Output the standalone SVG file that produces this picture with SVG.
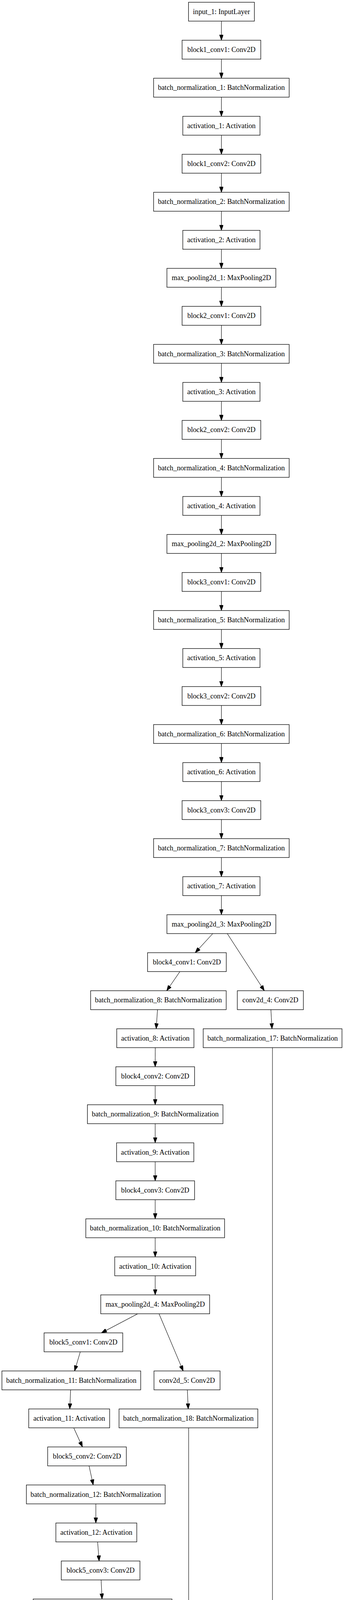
<svg xmlns="http://www.w3.org/2000/svg" width="880" height="5900" viewBox="0 0 880 5900">
<style>
.n rect{fill:#fff;stroke:#000;stroke-width:1.3}
.n text{font-family:"Liberation Serif","Times New Roman",serif;font-size:18.2px;fill:#000;text-anchor:middle}
#edges path{fill:none;stroke:#000;stroke-width:1.1;marker-end:url(#ah)}
</style>
<defs>
<marker id="ah" markerUnits="userSpaceOnUse" markerWidth="14" markerHeight="10" refX="14" refY="5" orient="auto"><path d="M0,0 L14,5 L0,10 z" fill="#000" stroke="#000" stroke-width="1"/></marker>
</defs>
<rect x="0" y="0" width="880" height="5900" fill="#fff"/>
<g id="edges">
<path d="M566.4,54.1 L566.4,103"/>
<path d="M566.4,151.4 L566.4,200.3"/>
<path d="M566.4,248.7 L566.4,297.7"/>
<path d="M566.4,346.1 L566.4,395"/>
<path d="M566.4,443.4 L566.4,492.3"/>
<path d="M566.4,540.7 L566.4,589.7"/>
<path d="M566.4,638.1 L566.4,687"/>
<path d="M566.4,735.4 L566.4,784.3"/>
<path d="M566.4,832.7 L566.4,881.6"/>
<path d="M566.4,930 L566.4,979"/>
<path d="M566.4,1027.4 L566.4,1076.3"/>
<path d="M566.4,1124.7 L566.4,1173.6"/>
<path d="M566.4,1222 L566.4,1271"/>
<path d="M566.4,1319.4 L566.4,1368.3"/>
<path d="M566.4,1416.7 L566.4,1465.6"/>
<path d="M566.4,1514 L566.4,1563"/>
<path d="M566.4,1611.4 L566.4,1660.3"/>
<path d="M566.4,1708.7 L566.4,1757.6"/>
<path d="M566.4,1806 L566.4,1854.9"/>
<path d="M566.4,1903.3 L566.4,1952.3"/>
<path d="M566.4,2000.7 L566.4,2049.6"/>
<path d="M566.4,2098 L566.4,2146.9"/>
<path d="M566.4,2195.3 L566.4,2244.3"/>
<path d="M566.4,2292.7 L566.4,2341.6"/>
<path d="M544.3,2390 L499.4,2438.9"/>
<path d="M581.4,2390 L676.2,2536.3"/>
<path d="M460.2,2487.3 L426.5,2536.3"/>
<path d="M402.9,2584.7 L399.6,2633.6"/>
<path d="M693,2584.7 L695.8,2633.6"/>
<path d="M397.2,2682 L397,2730.9"/>
<path d="M397,2779.3 L397,2828.2"/>
<path d="M397,2876.6 L397,2925.6"/>
<path d="M397,2974 L397,3022.9"/>
<path d="M397,3071.3 L397,3120.2"/>
<path d="M397,3168.6 L397,3217.6"/>
<path d="M397,3266 L397,3314.9"/>
<path d="M352.4,3363.3 L259.3,3412.2"/>
<path d="M406.8,3363.3 L468.6,3509.6"/>
<path d="M205.4,3460.6 L190.8,3509.6"/>
<path d="M479.2,3558 L481.5,3606.9"/>
<path d="M180.7,3558 L178.5,3606.9"/>
<path d="M188.6,3655.3 L211,3704.2"/>
<path d="M227.8,3752.6 L238.5,3801.5"/>
<path d="M245.2,3849.9 L245.2,3898.9"/>
<path d="M249.7,3947.3 L253.6,3996.2"/>
<path d="M258.7,4044.6 L261,4093.5"/>
<path d="M263.2,4141.9 L264.3,4190.9"/>
<path d="M266,4239.3 L266.3,4288.2"/>
<path d="M267.1,4336.6 L267.7,4385.5"/>
<path d="M267.8,4433.9 L267.8,4482.9"/>
<path d="M267.8,4531.3 L267.8,4580.2"/>
<path d="M267.8,4628.6 L267.8,4677.5"/>
<path d="M267.8,4725.9 L267.8,4774.8"/>
<path d="M267.8,4823.2 L267.8,4872.2"/>
<path d="M267.8,4920.6 L267.8,4969.5"/>
<path d="M267.8,5017.9 L267.8,5066.8"/>
<path d="M280,5115.2 L303,5164.2"/>
<path d="M356.3,5212.6 L442.2,5261.5"/>
<path d="M482.6,3655.3 L482.6,5261.5"/>
<path d="M492.1,5309.9 L507.9,5358.8"/>
<path d="M526.4,5407.2 L540.4,5456.2"/>
<path d="M567.3,5504.6 L603.3,5553.5"/>
<path d="M697,2682 L697,5390 C697,5460 660,5500 638.6,5553.5"/>
<path d="M622.3,5601.9 L622.3,5650.8"/>
<path d="M622.3,5699.2 L622.3,5748.1"/>
<path d="M622.3,5796.5 L622.3,5845.5"/>
</g>
<g id="input_1" class="n"><rect x="482.3" y="5.7" width="168.4" height="48.4"/><text x="566.5" y="35.7">input_1: InputLayer</text></g>
<g id="block1_conv1" class="n"><rect x="465.8" y="103" width="201.3" height="48.4"/><text x="566.5" y="133">block1_conv1: Conv2D</text></g>
<g id="batch_normalization_1" class="n"><rect x="392.9" y="200.3" width="346.8" height="48.4"/><text x="566.3" y="230.3">batch_normalization_1: BatchNormalization</text></g>
<g id="activation_1" class="n"><rect x="467.6" y="297.7" width="197.5" height="48.4"/><text x="566.3" y="327.7">activation_1: Activation</text></g>
<g id="block1_conv2" class="n"><rect x="465.8" y="395" width="201.3" height="48.4"/><text x="566.5" y="425">block1_conv2: Conv2D</text></g>
<g id="batch_normalization_2" class="n"><rect x="392.9" y="492.3" width="346.8" height="48.4"/><text x="566.3" y="522.3">batch_normalization_2: BatchNormalization</text></g>
<g id="activation_2" class="n"><rect x="467.6" y="589.7" width="197.5" height="48.4"/><text x="566.3" y="619.7">activation_2: Activation</text></g>
<g id="max_pooling2d_1" class="n"><rect x="427" y="687" width="278.6" height="48.4"/><text x="566.3" y="717">max_pooling2d_1: MaxPooling2D</text></g>
<g id="block2_conv1" class="n"><rect x="465.8" y="784.3" width="201.3" height="48.4"/><text x="566.5" y="814.3">block2_conv1: Conv2D</text></g>
<g id="batch_normalization_3" class="n"><rect x="392.9" y="881.6" width="346.8" height="48.4"/><text x="566.3" y="911.6">batch_normalization_3: BatchNormalization</text></g>
<g id="activation_3" class="n"><rect x="467.6" y="979" width="197.5" height="48.4"/><text x="566.3" y="1009">activation_3: Activation</text></g>
<g id="block2_conv2" class="n"><rect x="465.8" y="1076.3" width="201.3" height="48.4"/><text x="566.5" y="1106.3">block2_conv2: Conv2D</text></g>
<g id="batch_normalization_4" class="n"><rect x="392.9" y="1173.6" width="346.8" height="48.4"/><text x="566.3" y="1203.6">batch_normalization_4: BatchNormalization</text></g>
<g id="activation_4" class="n"><rect x="467.6" y="1271" width="197.5" height="48.4"/><text x="566.3" y="1301">activation_4: Activation</text></g>
<g id="max_pooling2d_2" class="n"><rect x="427" y="1368.3" width="278.6" height="48.4"/><text x="566.3" y="1398.3">max_pooling2d_2: MaxPooling2D</text></g>
<g id="block3_conv1" class="n"><rect x="465.8" y="1465.6" width="201.3" height="48.4"/><text x="566.5" y="1495.6">block3_conv1: Conv2D</text></g>
<g id="batch_normalization_5" class="n"><rect x="392.9" y="1563" width="346.8" height="48.4"/><text x="566.3" y="1593">batch_normalization_5: BatchNormalization</text></g>
<g id="activation_5" class="n"><rect x="467.6" y="1660.3" width="197.5" height="48.4"/><text x="566.3" y="1690.3">activation_5: Activation</text></g>
<g id="block3_conv2" class="n"><rect x="465.8" y="1757.6" width="201.3" height="48.4"/><text x="566.5" y="1787.6">block3_conv2: Conv2D</text></g>
<g id="batch_normalization_6" class="n"><rect x="392.9" y="1854.9" width="346.8" height="48.4"/><text x="566.3" y="1884.9">batch_normalization_6: BatchNormalization</text></g>
<g id="activation_6" class="n"><rect x="467.6" y="1952.3" width="197.5" height="48.4"/><text x="566.3" y="1982.3">activation_6: Activation</text></g>
<g id="block3_conv3" class="n"><rect x="465.8" y="2049.6" width="201.3" height="48.4"/><text x="566.5" y="2079.6">block3_conv3: Conv2D</text></g>
<g id="batch_normalization_7" class="n"><rect x="392.9" y="2146.9" width="346.8" height="48.4"/><text x="566.3" y="2176.9">batch_normalization_7: BatchNormalization</text></g>
<g id="activation_7" class="n"><rect x="467.6" y="2244.3" width="197.5" height="48.4"/><text x="566.3" y="2274.3">activation_7: Activation</text></g>
<g id="max_pooling2d_3" class="n"><rect x="427" y="2341.6" width="278.6" height="48.4"/><text x="566.3" y="2371.6">max_pooling2d_3: MaxPooling2D</text></g>
<g id="block4_conv1" class="n"><rect x="377.5" y="2438.9" width="201.3" height="48.4"/><text x="478.1" y="2468.9">block4_conv1: Conv2D</text></g>
<g id="batch_normalization_8" class="n"><rect x="231.8" y="2536.3" width="346.8" height="48.4"/><text x="405.2" y="2566.3">batch_normalization_8: BatchNormalization</text></g>
<g id="conv2d_4" class="n"><rect x="607.1" y="2536.3" width="169" height="48.4"/><text x="691.6" y="2566.3">conv2d_4: Conv2D</text></g>
<g id="activation_8" class="n"><rect x="298.6" y="2633.6" width="197.5" height="48.4"/><text x="397.3" y="2663.6">activation_8: Activation</text></g>
<g id="batch_normalization_17" class="n"><rect x="519.8" y="2633.6" width="355" height="48.4"/><text x="697.3" y="2663.6">batch_normalization_17: BatchNormalization</text></g>
<g id="block4_conv2" class="n"><rect x="296.4" y="2730.9" width="201.3" height="48.4"/><text x="397" y="2760.9">block4_conv2: Conv2D</text></g>
<g id="batch_normalization_9" class="n"><rect x="223.6" y="2828.2" width="346.8" height="48.4"/><text x="397" y="2858.2">batch_normalization_9: BatchNormalization</text></g>
<g id="activation_9" class="n"><rect x="298.3" y="2925.6" width="197.5" height="48.4"/><text x="397" y="2955.6">activation_9: Activation</text></g>
<g id="block4_conv3" class="n"><rect x="296.4" y="3022.9" width="201.3" height="48.4"/><text x="397" y="3052.9">block4_conv3: Conv2D</text></g>
<g id="batch_normalization_10" class="n"><rect x="219.5" y="3120.2" width="355" height="48.4"/><text x="397" y="3150.2">batch_normalization_10: BatchNormalization</text></g>
<g id="activation_10" class="n"><rect x="293.5" y="3217.6" width="207" height="48.4"/><text x="397" y="3247.6">activation_10: Activation</text></g>
<g id="max_pooling2d_4" class="n"><rect x="257.7" y="3314.9" width="278.6" height="48.4"/><text x="397" y="3344.9">max_pooling2d_4: MaxPooling2D</text></g>
<g id="block5_conv1" class="n"><rect x="112.7" y="3412.2" width="201.3" height="48.4"/><text x="213.3" y="3442.2">block5_conv1: Conv2D</text></g>
<g id="batch_normalization_11" class="n"><rect x="4.9" y="3509.6" width="355" height="48.4"/><text x="182.4" y="3539.6">batch_normalization_11: BatchNormalization</text></g>
<g id="conv2d_5" class="n"><rect x="393.9" y="3509.6" width="169" height="48.4"/><text x="478.4" y="3539.6">conv2d_5: Conv2D</text></g>
<g id="activation_11" class="n"><rect x="73.5" y="3606.9" width="207" height="48.4"/><text x="177" y="3636.9">activation_11: Activation</text></g>
<g id="batch_normalization_18" class="n"><rect x="304.5" y="3606.9" width="355" height="48.4"/><text x="482" y="3636.9">batch_normalization_18: BatchNormalization</text></g>
<g id="block5_conv2" class="n"><rect x="121.9" y="3704.2" width="201.3" height="48.4"/><text x="222.5" y="3734.2">block5_conv2: Conv2D</text></g>
<g id="batch_normalization_12" class="n"><rect x="67.5" y="3801.5" width="355" height="48.4"/><text x="245" y="3831.5">batch_normalization_12: BatchNormalization</text></g>
<g id="activation_12" class="n"><rect x="142.9" y="3898.9" width="207" height="48.4"/><text x="246.4" y="3928.9">activation_12: Activation</text></g>
<g id="block5_conv3" class="n"><rect x="156.7" y="3996.2" width="201.3" height="48.4"/><text x="257.3" y="4026.2">block5_conv3: Conv2D</text></g>
<g id="batch_normalization_13" class="n"><rect x="84.9" y="4093.5" width="355" height="48.4"/><text x="262.4" y="4123.5">batch_normalization_13: BatchNormalization</text></g>
<g id="activation_13" class="n"><rect x="161.7" y="4190.9" width="207" height="48.4"/><text x="265.2" y="4220.9">activation_13: Activation</text></g>
<g id="max_pooling2d_5" class="n"><rect x="127.3" y="4288.2" width="278.6" height="48.4"/><text x="266.6" y="4318.2">max_pooling2d_5: MaxPooling2D</text></g>
<g id="conv2d_1" class="n"><rect x="183.2" y="4385.5" width="169" height="48.4"/><text x="267.7" y="4415.5">conv2d_1: Conv2D</text></g>
<g id="batch_normalization_14" class="n"><rect x="90.5" y="4482.9" width="355" height="48.4"/><text x="268" y="4512.9">batch_normalization_14: BatchNormalization</text></g>
<g id="activation_14" class="n"><rect x="164.2" y="4580.2" width="207" height="48.4"/><text x="267.7" y="4610.2">activation_14: Activation</text></g>
<g id="conv2d_2" class="n"><rect x="183.2" y="4677.5" width="169" height="48.4"/><text x="267.7" y="4707.5">conv2d_2: Conv2D</text></g>
<g id="batch_normalization_15" class="n"><rect x="90.5" y="4774.8" width="355" height="48.4"/><text x="268" y="4804.8">batch_normalization_15: BatchNormalization</text></g>
<g id="activation_15" class="n"><rect x="164.2" y="4872.2" width="207" height="48.4"/><text x="267.7" y="4902.2">activation_15: Activation</text></g>
<g id="conv2d_3" class="n"><rect x="183.2" y="4969.5" width="169" height="48.4"/><text x="267.7" y="4999.5">conv2d_3: Conv2D</text></g>
<g id="batch_normalization_16" class="n"><rect x="90.5" y="5066.8" width="355" height="48.4"/><text x="268" y="5096.8">batch_normalization_16: BatchNormalization</text></g>
<g id="lambda_1" class="n"><rect x="233.1" y="5164.2" width="165.3" height="48.4"/><text x="315.7" y="5194.2">lambda_1: Lambda</text></g>
<g id="add_1" class="n"><rect x="427.2" y="5261.5" width="110.3" height="48.4"/><text x="482.3" y="5291.5">add_1: Add</text></g>
<g id="activation_16" class="n"><rect x="416.1" y="5358.8" width="207" height="48.4"/><text x="519.6" y="5388.8">activation_16: Activation</text></g>
<g id="lambda_2" class="n"><rect x="466.2" y="5456.2" width="165.3" height="48.4"/><text x="548.8" y="5486.2">lambda_2: Lambda</text></g>
<g id="add_2" class="n"><rect x="567.2" y="5553.5" width="110.3" height="48.4"/><text x="622.3" y="5583.5">add_2: Add</text></g>
<g id="activation_17" class="n"><rect x="518.8" y="5650.8" width="207" height="48.4"/><text x="622.3" y="5680.8">activation_17: Activation</text></g>
<g id="lambda_3" class="n"><rect x="539.7" y="5748.1" width="165.3" height="48.4"/><text x="622.3" y="5778.1">lambda_3: Lambda</text></g>
<g id="activation_18" class="n"><rect x="518.8" y="5845.5" width="207" height="48.4"/><text x="622.3" y="5875.5">activation_18: Activation</text></g>
</svg>
